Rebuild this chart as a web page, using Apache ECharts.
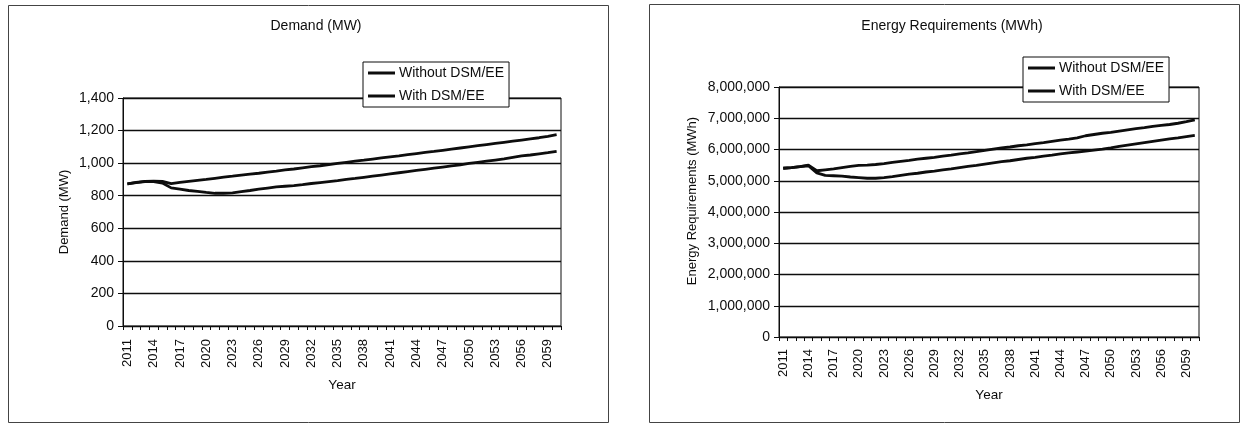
<!DOCTYPE html>
<html>
<head>
<meta charset="utf-8">
<script src="https://cdn.jsdelivr.net/npm/echarts@6/dist/echarts.min.js"></script>
<style>
  html, body { margin: 0; padding: 0; background: #ffffff; }
  #chart { width: 1241px; height: 425px; }
</style>
</head>
<body>
<div id="chart"></div>
<script>
// Forecast years shown on both category axes
const years = [];
for (let y = 2011; y <= 2060; y++) years.push(String(y));

const seriesNames = ['Without DSM/EE', 'With DSM/EE'];

// Peak demand, MW
const demandWithout = [
  873, 882, 888, 890, 888, 874, 882, 888, 894, 900,
  907, 914, 920, 927, 933, 938, 945, 951, 958, 964,
  971, 978, 984, 991, 998, 1005, 1012, 1018, 1025, 1032,
  1039, 1045, 1052, 1059, 1066, 1072, 1079, 1086, 1093, 1100,
  1107, 1114, 1121, 1128, 1135, 1142, 1149, 1156, 1165, 1175
];
const demandWith = [
  873, 880, 886, 886, 878, 848, 840, 832, 826, 820,
  815, 815, 818, 825, 832, 840, 847, 854, 858, 862,
  868, 875, 881, 887, 893, 900, 906, 913, 920, 927,
  934, 941, 948, 955, 962, 969, 976, 983, 990, 998,
  1005, 1012, 1019, 1026, 1035, 1044, 1050, 1057, 1064, 1072
];

// Energy requirements, MWh
const energyWithout = [
  5400000, 5420000, 5450000, 5500000, 5320000, 5350000, 5380000, 5420000, 5460000, 5490000,
  5500000, 5520000, 5550000, 5590000, 5620000, 5650000, 5690000, 5720000, 5750000, 5790000,
  5820000, 5860000, 5890000, 5930000, 5970000, 6010000, 6050000, 6080000, 6120000, 6150000,
  6190000, 6220000, 6260000, 6300000, 6330000, 6370000, 6440000, 6480000, 6520000, 6550000,
  6590000, 6630000, 6670000, 6700000, 6740000, 6770000, 6800000, 6840000, 6890000, 6950000
];
const energyWith = [
  5400000, 5420000, 5450000, 5480000, 5250000, 5170000, 5160000, 5150000, 5120000, 5100000,
  5080000, 5080000, 5100000, 5130000, 5170000, 5210000, 5240000, 5280000, 5310000, 5350000,
  5380000, 5420000, 5460000, 5490000, 5530000, 5570000, 5610000, 5640000, 5680000, 5720000,
  5750000, 5790000, 5820000, 5860000, 5890000, 5920000, 5950000, 5980000, 6010000, 6050000,
  6100000, 6140000, 6180000, 6220000, 6260000, 6300000, 6340000, 6370000, 6410000, 6450000
];

const FONT = 'Liberation Sans, Arial, sans-serif';
const INK = '#0d0d0d';

const fmt = v => Math.round(v).toLocaleString('en-US');

function xAxis(gridIndex, gap, margin) {
  return {
    type: 'category', gridIndex, data: years, boundaryGap: true,
    name: 'Year', nameLocation: 'middle', nameGap: gap,
    nameTextStyle: { fontFamily: FONT, fontSize: 13.5, color: INK },
    axisLine: { lineStyle: { color: INK, width: 1 } },
    axisTick: { show: true, interval: 0, length: 4, lineStyle: { color: INK } },
    axisLabel: { interval: 2, rotate: 90, margin, fontFamily: FONT, fontSize: 13, color: INK },
    splitLine: { show: false }
  };
}

function yAxis(gridIndex, max, interval, name, gap, pad) {
  return {
    type: 'value', gridIndex, min: 0, max, interval,
    name, nameLocation: 'middle', nameGap: gap,
    nameTextStyle: { fontFamily: FONT, fontSize: 13, color: INK, padding: pad },
    axisLine: { show: true, lineStyle: { color: INK, width: 1 } },
    axisTick: { show: true, length: 5, lineStyle: { color: INK } },
    axisLabel: { formatter: fmt, margin: 9, fontFamily: FONT, fontSize: 14, color: INK },
    splitLine: { show: true, lineStyle: { color: INK, width: 1.3 } }
  };
}

function legend(left, top) {
  return {
    orient: 'vertical', left, top,
    data: seriesNames,
    icon: 'rect', itemWidth: 27, itemHeight: 3, itemGap: 7,
    padding: [3, 5, 3, 5],
    backgroundColor: '#ffffff', borderColor: INK, borderWidth: 1,
    textStyle: { fontFamily: FONT, fontSize: 14, color: INK, lineHeight: 16, padding: [0, 0, 0, -1] },
    selectedMode: false, z: 10
  };
}

function line(name, xi, data) {
  return {
    name, type: 'line', xAxisIndex: xi, yAxisIndex: xi, data,
    showSymbol: false, symbol: 'none', smooth: false,
    lineStyle: { color: INK, width: 2.8 }, itemStyle: { color: INK },
    z: 3
  };
}

const chart = echarts.init(document.getElementById('chart'), null, { renderer: 'canvas' });
chart.setOption({
  animation: false,
  backgroundColor: '#ffffff',
  title: [
    { text: 'Demand (MW)', left: 311, top: 14, textAlign: 'center',
      textStyle: { fontFamily: FONT, fontSize: 14, fontWeight: 'normal', color: INK } },
    { text: 'Energy Requirements (MWh)', left: 947, top: 14, textAlign: 'center',
      textStyle: { fontFamily: FONT, fontSize: 14, fontWeight: 'normal', color: INK } }
  ],
  legend: [legend(363, 62), legend(1023, 57)],
  grid: [
    { left: 123, top: 98, width: 438, height: 228, show: true, borderColor: INK, borderWidth: 1, backgroundColor: 'transparent' },
    { left: 779, top: 87, width: 420, height: 250, show: true, borderColor: INK, borderWidth: 1, backgroundColor: 'transparent' }
  ],
  xAxis: [xAxis(0, 52, 13), xAxis(1, 51, 12)],
  yAxis: [
    yAxis(0, 1400, 200, 'Demand (MW)', 52, [0, 0, 0, 0]),
    yAxis(1, 8000000, 1000000, 'Energy Requirements (MWh)', 80, [0, 0, 0, 22])
  ],
  series: [
    line(seriesNames[0], 0, demandWithout),
    line(seriesNames[1], 0, demandWith),
    line(seriesNames[0], 1, energyWithout),
    line(seriesNames[1], 1, energyWith)
  ],
  graphic: [
    { type: 'rect', shape: { x: 8.5, y: 5.5, width: 600, height: 417 },
      style: { fill: 'none', stroke: '#444', lineWidth: 1 }, silent: true, z: 0 },
    { type: 'rect', shape: { x: 649.5, y: 4.5, width: 590, height: 418 },
      style: { fill: 'none', stroke: '#444', lineWidth: 1 }, silent: true, z: 0 }
  ]
});
</script>
</body>
</html>
